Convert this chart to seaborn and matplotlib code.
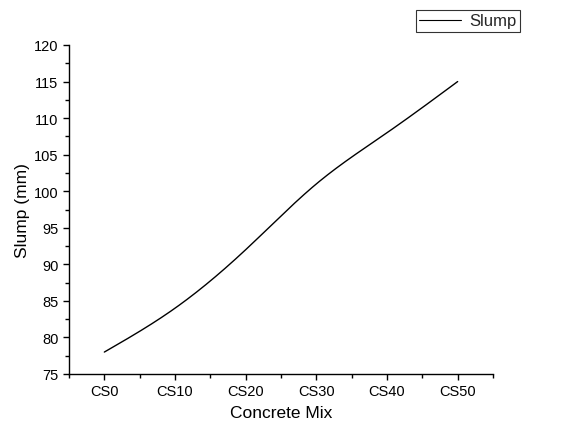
import numpy as np
import pandas as pd
import matplotlib
matplotlib.use("Agg")
import matplotlib.pyplot as plt
import seaborn as sns
from matplotlib.ticker import MultipleLocator

categories = ["CS0", "CS10", "CS20", "CS30", "CS40", "CS50"]
slump = [78, 84, 92, 101, 108, 115]

sns.set_theme(style="ticks")
plt.rcParams['font.family'] = ['Liberation Sans', 'DejaVu Sans']

def natural_spline(x, y, n=300):
    x = np.asarray(x, float); y = np.asarray(y, float)
    k = len(x); h = np.diff(x)
    A = np.zeros((k, k)); b = np.zeros(k)
    A[0, 0] = A[-1, -1] = 1
    for i in range(1, k - 1):
        A[i, i - 1] = h[i - 1]; A[i, i] = 2 * (h[i - 1] + h[i]); A[i, i + 1] = h[i]
        b[i] = 3 * ((y[i + 1] - y[i]) / h[i] - (y[i] - y[i - 1]) / h[i - 1])
    c = np.linalg.solve(A, b)
    xs = np.linspace(x[0], x[-1], n); ys = np.empty_like(xs)
    for j, t in enumerate(xs):
        i = min(np.searchsorted(x, t, side='right') - 1, k - 2)
        d = t - x[i]
        bi = (y[i + 1] - y[i]) / h[i] - h[i] * (2 * c[i] + c[i + 1]) / 3
        di = (c[i + 1] - c[i]) / (3 * h[i])
        ys[j] = y[i] + bi * d + c[i] * d ** 2 + di * d ** 3
    return xs, ys

xs, ys = natural_spline(range(len(categories)), slump)
df = pd.DataFrame({"x": xs, "y": ys})

fig = plt.figure(figsize=(5.61, 4.27), dpi=100)
ax = fig.add_axes([69 / 561, 52 / 427, 424 / 561, 329 / 427])
sns.lineplot(data=df, x="x", y="y", ax=ax, color="black", linewidth=1.0, label="Slump")

ax.set_xlim(-0.5, 5.5)
ax.set_ylim(75, 120)
ax.set_xticks(range(len(categories)))
ax.set_xticklabels(categories)
ax.set_xticks(np.arange(-0.5, 6, 1), minor=True)
ax.yaxis.set_major_locator(MultipleLocator(5))
ax.yaxis.set_minor_locator(MultipleLocator(2.5))
ax.tick_params(axis='both', which='major', direction='out', length=4.5, width=1, labelsize=10.5, color='black', labelcolor='black', pad=3)
ax.tick_params(axis='both', which='minor', direction='out', length=3, width=1, color='black')
for s in ['top', 'right']:
    ax.spines[s].set_visible(False)
for s in ['left', 'bottom']:
    ax.spines[s].set_color('black'); ax.spines[s].set_linewidth(1)
ax.set_xlabel("Concrete Mix", fontsize=12.5, color='black', labelpad=5)
ax.set_ylabel("Slump (mm)", fontsize=12.5, color='black', labelpad=3)

leg = ax.legend(loc='upper right', bbox_to_anchor=(520 / 561, 1 - 11 / 427), bbox_transform=fig.transFigure,
                frameon=True, fancybox=False, fontsize=12, handlelength=2.5, handletextpad=0.5,
                borderpad=0.2, borderaxespad=0)
leg.get_frame().set_edgecolor('black'); leg.get_frame().set_linewidth(0.8)
for l in leg.get_lines():
    l.set_linewidth(0.8)

fig.savefig("out.png", dpi=100)
